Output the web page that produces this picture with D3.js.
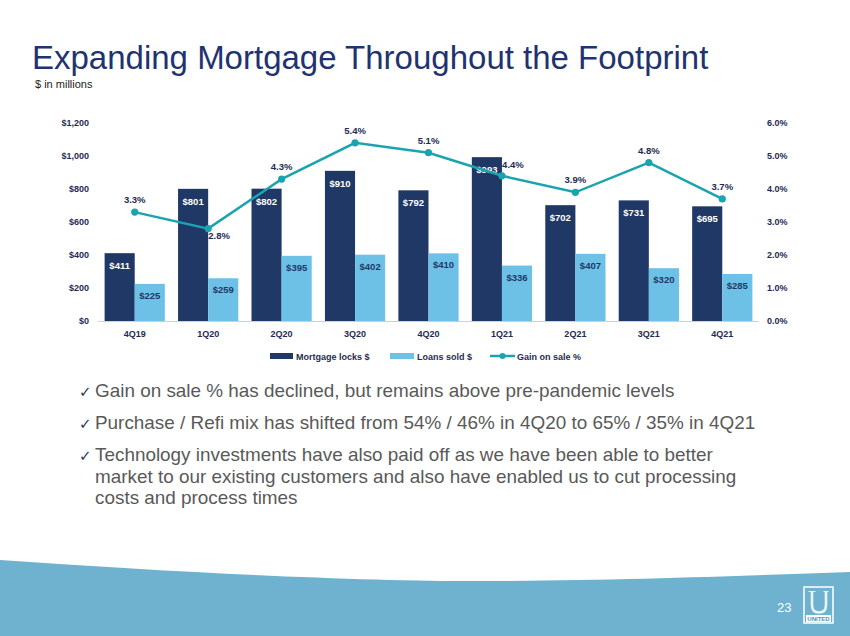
<!DOCTYPE html>
<html>
<head>
<meta charset="utf-8">
<script src="https://cdn.jsdelivr.net/npm/d3@7"></script>
<style>
  body { margin: 0; background: #fff; }
  svg { display: block; font-family: "Liberation Sans", Arial, sans-serif; }
</style>
</head>
<body>
<script>
"use strict";

// Chart data
const quarters = ["4Q19", "1Q20", "2Q20", "3Q20", "4Q20", "1Q21", "2Q21", "3Q21", "4Q21"];
const mortgageLocks = [411, 801, 802, 910, 792, 993, 702, 731, 695];
const loansSold = [225, 259, 395, 402, 410, 336, 407, 320, 285];
const gainOnSale = [3.3, 2.8, 4.3, 5.4, 5.1, 4.4, 3.9, 4.8, 3.7];
const leftTicks = [0, 200, 400, 600, 800, 1000, 1200];
const rightTicks = [0, 1, 2, 3, 4, 5, 6];
const seriesNames = ["Mortgage locks $", "Loans sold $", "Gain on sale %"];

const bullets = [
    ["Gain on sale % has declined, but remains above pre-pandemic levels"],
    ["Purchase / Refi mix has shifted from 54% / 46% in 4Q20 to 65% / 35% in 4Q21"],
    ["Technology investments have also paid off as we have been able to better",
     "market to our existing customers and also have enabled us to cut processing",
     "costs and process times"]
];

// Colours
const navy = "#1F3866";
const sky = "#6DC1E7";
const teal = "#1AA4B0";
const tickInk = "#1F2B54";

let w = 850;
let h = 636;

let svg = d3.select("body")
    .append("svg")
    .attr("width", w)
    .attr("height", h);

// Bottom wave band
svg.append("path")
    .attr("d", "M0,560 C200,574 380,582 500,581 C640,580 760,575 850,572 L850,636 L0,636 Z")
    .attr("fill", "#6FB2D0");

// Title
svg.append("text")
    .attr("x", 32)
    .attr("y", 69)
    .attr("font-size", 33)
    .attr("fill", "#1F3370")
    .text("Expanding Mortgage Throughout the Footprint");

svg.append("text")
    .attr("x", 35)
    .attr("y", 88)
    .attr("font-size", 11)
    .attr("fill", "#222")
    .text("$ in millions");

// Scales
let x = d3.scaleBand()
    .domain(quarters)
    .range([98, 759])
    .paddingInner(0.18)
    .paddingOuter(0.09);

let x1 = d3.scaleBand()
    .domain(seriesNames.slice(0, 2))
    .range([0, x.bandwidth()]);

let y = d3.scaleLinear().domain([0, 1200]).range([321, 123]);
let yPct = d3.scaleLinear().domain([0, 6]).range([321, 123]);

// Axes
let leftAxis = svg.append("g")
    .attr("transform", "translate(92,0)")
    .call(d3.axisLeft(y).tickValues(leftTicks).tickSize(0).tickFormat(d => "$" + d3.format(",")(d)));

let rightAxis = svg.append("g")
    .attr("transform", "translate(764,0)")
    .call(d3.axisRight(yPct).tickValues(rightTicks).tickSize(0).tickFormat(d => d.toFixed(1) + "%"));

let bottomAxis = svg.append("g")
    .attr("transform", "translate(0,321)")
    .call(d3.axisBottom(x).tickSize(0).tickPadding(10));

for (let ax of [leftAxis, rightAxis, bottomAxis]) {
    ax.select(".domain").remove();
    ax.selectAll("text")
        .attr("font-family", "Liberation Sans, Arial, sans-serif")
        .attr("font-size", 9)
        .attr("font-weight", "bold")
        .attr("fill", tickInk);
}

// Bars
let groups = svg.append("g")
    .selectAll("g")
    .data(quarters)
    .enter().append("g")
    .attr("transform", d => `translate(${x(d)},0)`);

groups.append("rect")
    .attr("x", x1(seriesNames[0]))
    .attr("y", (d, i) => y(mortgageLocks[i]))
    .attr("width", x1.bandwidth())
    .attr("height", (d, i) => y(0) - y(mortgageLocks[i]))
    .attr("fill", navy);

groups.append("rect")
    .attr("x", x1(seriesNames[1]))
    .attr("y", (d, i) => y(loansSold[i]))
    .attr("width", x1.bandwidth())
    .attr("height", (d, i) => y(0) - y(loansSold[i]))
    .attr("fill", sky);

groups.append("text")
    .attr("x", x1(seriesNames[0]) + x1.bandwidth() / 2)
    .attr("y", (d, i) => y(mortgageLocks[i]) + 16)
    .attr("text-anchor", "middle")
    .attr("font-size", 9.5)
    .attr("font-weight", "bold")
    .attr("fill", "#fff")
    .text((d, i) => "$" + mortgageLocks[i]);

groups.append("text")
    .attr("x", x1(seriesNames[1]) + x1.bandwidth() / 2)
    .attr("y", (d, i) => y(loansSold[i]) + 15)
    .attr("text-anchor", "middle")
    .attr("font-size", 9.5)
    .attr("font-weight", "bold")
    .attr("fill", navy)
    .text((d, i) => "$" + loansSold[i]);

// Baseline
svg.append("line")
    .attr("x1", 98).attr("x2", 759)
    .attr("y1", 321.5).attr("y2", 321.5)
    .attr("stroke", "#D0D0D0");

// Gain on sale line
let cx = d => x(d) + x.bandwidth() / 2;
let line = d3.line()
    .x((d, i) => cx(quarters[i]))
    .y(d => yPct(d));

svg.append("path")
    .datum(gainOnSale)
    .attr("d", line)
    .attr("fill", "none")
    .attr("stroke", teal)
    .attr("stroke-width", 2.5);

svg.append("g")
    .selectAll("circle")
    .data(gainOnSale)
    .enter().append("circle")
    .attr("cx", (d, i) => cx(quarters[i]))
    .attr("cy", d => yPct(d))
    .attr("r", 3.6)
    .attr("fill", teal);

// label nudges where the point label is not centred above
let pctNudge = {"1Q20": [11, 10], "1Q21": [11, -8]};
svg.append("g")
    .selectAll("text")
    .data(gainOnSale)
    .enter().append("text")
    .attr("x", (d, i) => cx(quarters[i]) + (pctNudge[quarters[i]] || [0, -9])[0])
    .attr("y", (d, i) => yPct(d) + (pctNudge[quarters[i]] || [0, -9])[1])
    .attr("text-anchor", "middle")
    .attr("font-size", 9.5)
    .attr("font-weight", "bold")
    .attr("fill", tickInk)
    .text(d => d.toFixed(1) + "%");

// Legend
let legend = svg.append("g").attr("font-size", 9).attr("font-weight", "bold").attr("fill", tickInk);
legend.append("rect").attr("x", 270).attr("y", 353).attr("width", 23).attr("height", 6).attr("fill", navy);
legend.append("text").attr("x", 296).attr("y", 360).text(seriesNames[0]);
legend.append("rect").attr("x", 390).attr("y", 353).attr("width", 24).attr("height", 6).attr("fill", sky);
legend.append("text").attr("x", 417).attr("y", 360).text(seriesNames[1]);
legend.append("line").attr("x1", 490).attr("x2", 515).attr("y1", 356).attr("y2", 356)
    .attr("stroke", teal).attr("stroke-width", 2.5);
legend.append("circle").attr("cx", 502.5).attr("cy", 356).attr("r", 3).attr("fill", teal);
legend.append("text").attr("x", 517).attr("y", 360).text(seriesNames[2]);

// Bullets (slightly stretched to match the slide's text width)
let lineY = [397, 429, 461, 483, 504];
let k = 0;
let bulletBox = svg.append("g").attr("transform", "translate(95,0) scale(1.05,1)");
bullets.forEach(b => {
    svg.append("text")
        .attr("x", 79)
        .attr("y", lineY[k])
        .attr("font-family", "DejaVu Sans, sans-serif")
        .attr("font-size", 15)
        .attr("fill", "#333A55")
        .text("\u2713");
    b.forEach(t => {
        bulletBox.append("text")
            .attr("x", 0)
            .attr("y", lineY[k])
            .attr("font-size", 18)
            .attr("fill", "#595959")
            .text(t);
        k++;
    });
});

// Page number and logo
svg.append("text")
    .attr("x", 777).attr("y", 612)
    .attr("font-size", 13)
    .attr("fill", "#fff")
    .text("23");

let logo = svg.append("g");
logo.append("rect").attr("x", 804).attr("y", 587).attr("width", 29).attr("height", 36)
    .attr("fill", "none").attr("stroke", "#fff").attr("stroke-width", 1.5);
// serif "U" mark drawn as a shape
logo.append("path")
    .attr("d", "M812,592 L812,605 Q812,612.5 819,612.5 Q826,612.5 826,605 L826,592")
    .attr("fill", "none").attr("stroke", "#EAF4F8").attr("stroke-width", 2.6);
logo.append("path")
    .attr("d", "M808.5,591.5 L815.5,591.5 M823.5,591.5 L828.5,591.5")
    .attr("stroke", "#EAF4F8").attr("stroke-width", 1.2);
logo.append("rect").attr("x", 806).attr("y", 615).attr("width", 25).attr("height", 7).attr("fill", "#fff");
logo.append("text").attr("x", 818.5).attr("y", 621).attr("text-anchor", "middle")
    .attr("font-size", 6).attr("font-weight", "bold").attr("fill", "#4E93B8").text("UNITED");
</script>
</body>
</html>
